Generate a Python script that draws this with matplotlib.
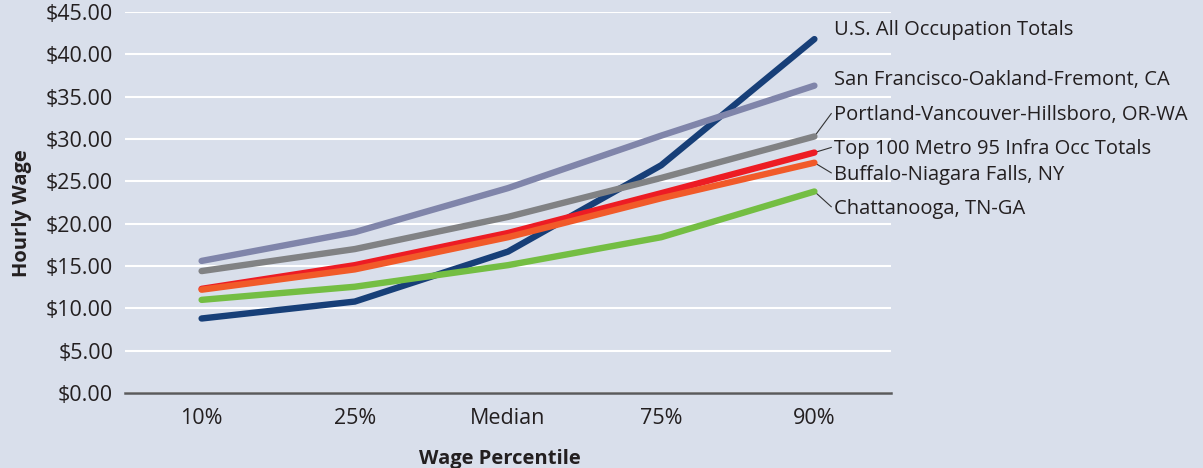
import matplotlib.pyplot as plt
import numpy as np

percentiles = ["10%", "25%", "Median", "75%", "90%"]

us_all = [8.8, 10.8, 16.7, 26.9, 41.8]
san_francisco = [15.6, 19.0, 24.2, 30.4, 36.3]
portland = [14.4, 17.0, 20.8, 25.4, 30.3]
top100 = [12.3, 15.1, 18.9, 23.6, 28.4]
buffalo = [12.2, 14.6, 18.4, 23.0, 27.2]
chattanooga = [11.0, 12.55, 15.1, 18.4, 23.8]

series_names = ["U.S. All Occupation Totals", "Chattanooga, TN-GA",
                "Portland-Vancouver-Hillsboro, OR-WA", "Top 100 Metro 95 Infra Occ Totals",
                "Buffalo-Niagara Falls, NY", "San Francisco-Oakland-Fremont, CA"]
series_vals = [us_all, chattanooga, portland, top100, buffalo, san_francisco]
series_cols = ["#173f78", "#74be43", "#818284", "#ed1c24", "#f15a29", "#8085aa"]

# label y positions (data units); leader line end y for labels that have one
label_y = {"U.S. All Occupation Totals": 42.9,
           "San Francisco-Oakland-Fremont, CA": 37.0,
           "Portland-Vancouver-Hillsboro, OR-WA": 32.8,
           "Top 100 Metro 95 Infra Occ Totals": 28.8,
           "Buffalo-Niagara Falls, NY": 25.75,
           "Chattanooga, TN-GA": 21.7}
leader_end = {"Portland-Vancouver-Hillsboro, OR-WA": 33.0,
              "Top 100 Metro 95 Infra Occ Totals": 29.0,
              "Buffalo-Niagara Falls, NY": 26.0,
              "Chattanooga, TN-GA": 22.0}

bg = "#d9dfeb"
txt = "#231f20"
plt.rcParams['font.family'] = ['Open Sans', 'DejaVu Sans']

fig = plt.figure(figsize=(12.03, 4.68), dpi=100, facecolor=bg)
ax = fig.add_axes([125/1203, 1 - 393/468, 766/1203, 381/468])
ax.set_facecolor(bg)

x = np.arange(len(percentiles))
for name, vals, c in zip(series_names, series_vals, series_cols):
    ax.plot(x, vals, color=c, lw=4.6, solid_capstyle='round', solid_joinstyle='miter', zorder=3)

ax.set_xlim(-0.5, 4.5)
ax.set_ylim(0, 45)
ax.set_yticks(np.arange(0, 46, 5))
ax.set_yticklabels(["$%.2f" % v for v in np.arange(0, 46, 5)])
ax.set_xticks(x)
ax.set_xticklabels(percentiles)
ax.grid(axis='y', color='white', lw=1.5, zorder=1)
ax.set_axisbelow(True)
for s in ["top", "right", "left"]:
    ax.spines[s].set_visible(False)
ax.spines["bottom"].set_color("#5a5a5c")
ax.spines["bottom"].set_linewidth(1.8)
ax.spines["bottom"].set_zorder(2)
ax.tick_params(length=0, labelsize=15.5, colors=txt)
ax.tick_params(axis='y', pad=8.5)
ax.tick_params(axis='x', pad=11)

ax.set_ylabel("Hourly Wage", fontsize=14.5, fontweight='bold', color=txt)
ax.yaxis.set_label_coords(-0.122, 0.472)
ax.set_xlabel("Wage Percentile", fontsize=14.5, fontweight='bold', color=txt)
ax.xaxis.set_label_coords(0.49, -0.148)

for name, vals in zip(series_names, series_vals):
    ty = label_y[name]
    ax.text(4.13, ty, name, fontsize=14.5, color=txt, va='center', ha='left', clip_on=False)
    if name in leader_end:
        ax.plot([4.0, 4.11], [vals[-1], leader_end[name]], color="#333333", lw=0.8,
                clip_on=False, zorder=2)

plt.savefig("out.png", dpi=100, facecolor=bg)
